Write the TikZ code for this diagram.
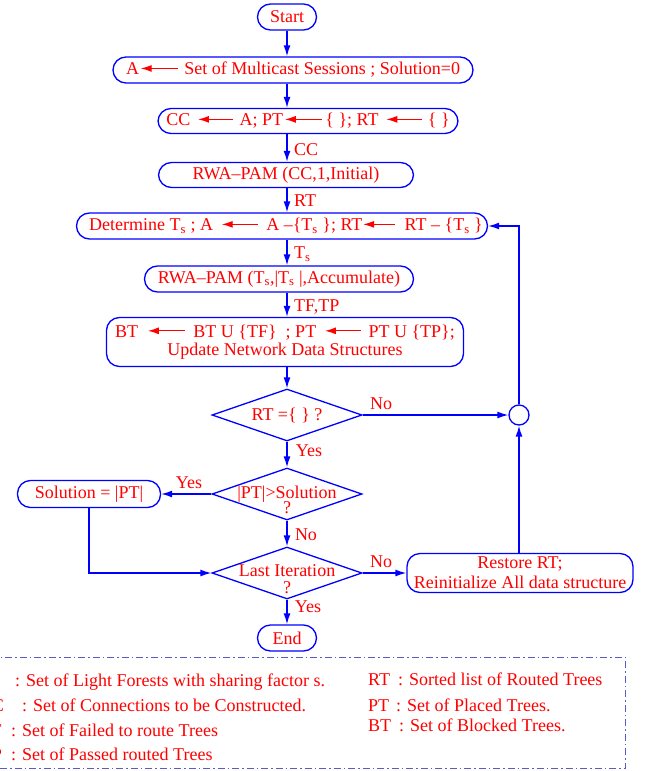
\documentclass[tikz,border=0pt]{standalone}
\usepackage{fontspec}
\setmainfont{Liberation Serif}
\usetikzlibrary{arrows.meta,shapes.geometric}
\definecolor{fb}{RGB}{0,0,255}
\definecolor{fr}{RGB}{255,0,0}
\definecolor{lg}{RGB}{90,90,200}
\newcommand\la[1]{\tikz[baseline=-6.5pt]\draw[fr,line width=1.3pt,{Latex[length=11pt,width=7pt]}-] (0pt,0pt)--(#1pt,0pt);}
\newcommand\hs[1]{\hspace*{#1pt}}
\begin{document}
\begin{tikzpicture}[x=1pt,y=-1pt,
  every node/.style={font=\fontsize{18}{20}\selectfont},
  pill/.style={draw=fb,line width=1.3pt,rounded corners=13pt,text=fr,inner sep=0pt,align=center},
  dia/.style={draw=fb,line width=1.3pt,diamond,inner sep=0pt},
  flow/.style={draw=fb,line width=1.5pt,-{Latex[length=11pt,width=7pt]}},
  lab/.style={text=fr,inner sep=0pt},
  leg/.style={text=fr,inner sep=0pt,anchor=base west},
  legl/.style={text=fr,inner sep=0pt,anchor=base east}]
\useasboundingbox (0,0) rectangle (650,771);
\clip (0,0) rectangle (650,771);

% boxes
\node[pill,minimum width=59,minimum height=26] (start) at (287,17) {Start};
\node[pill,minimum width=360,minimum height=26] (a) at (293,70)
  {A\hs{1}\la{37}\hs{6}Set of Multicast Sessions ; Solution=0};
\node[pill,minimum width=300,minimum height=25] (cc) at (308,121)
  {CC\hs{7}\la{35}\hs{6}A; PT\hs{1}\la{37}\hs{3}\{ \}; RT\hs{7}\la{36}\hs{5}\{ \}};
\node[pill,minimum width=255,minimum height=25] (rwa1) at (286,175)
  {RWA--PAM (CC,1,Initial)};
\node[pill,minimum width=411,minimum height=26] (det) at (282,226)
  {\hs{8}Determine T\textsubscript{s} ; A\hs{8}\la{36}\hs{8}A --\{T\textsubscript{s} \}; RT\la{32}\hs{9}RT -- \{T\textsubscript{s} \}};
\node[pill,minimum width=269,minimum height=26] (rwa2) at (279,279)
  {RWA--PAM (T\textsubscript{s},|T\textsubscript{s} |,Accumulate)};
\node[pill,minimum width=357,minimum height=49,font=\fontsize{18}{18}\selectfont] (bt) at (285,342)
  {BT\hs{9}\la{37}\hs{8}BT U \{TF\} \ ; PT\hs{8}\la{36}\hs{7}PT U \{TP\};\\Update Network Data Structures};
\node[dia,minimum width=150,minimum height=52] (d1) at (287,415) {};
\node[lab] (t1) at (287,415) {RT =\{ \} ?};
\node[draw=fb,line width=1.3pt,circle,minimum size=20,inner sep=0pt] (c) at (519,415) {};
\node[dia,minimum width=150,minimum height=52] (d2) at (287,494) {};
\node[lab] (t2) at (287,494) {|PT|>Solution};
\node[lab] (q2) at (287,508) {?};
\node[pill,minimum width=143,minimum height=27] (sol) at (89,494) {Solution = |PT|};
\node[dia,minimum width=150,minimum height=52] (d3) at (287,573) {};
\node[lab] (t3) at (287,571) {Last Iteration};
\node[lab] (q3) at (287,588) {?};
\node[pill,minimum width=226,minimum height=39,font=\fontsize{18}{20}\selectfont] (rest) at (520,573)
  {Restore RT;\\Reinitialize All data structure};
\node[pill,minimum width=59,minimum height=26] (end) at (287,638) {End};

% connectors
\draw[flow] (start) -- (a.north -| start);
\draw[flow] (a.south -| start) -- (cc.north -| start);
\draw[flow] (cc.south -| start) -- (rwa1.north -| start);
\draw[flow] (rwa1.south -| start) -- (det.north -| start);
\draw[flow] (det.south -| start) -- (rwa2.north -| start);
\draw[flow] (rwa2.south -| start) -- (bt.north -| start);
\draw[flow] (bt.south -| start) -- (d1.north);
\draw[flow] (d1.east) -- (c.west);
\coordinate (cu) at (c.north |- det.east);
\draw[flow] (c.north) -- (cu) -- (det.east);
\draw[flow] (d1.south) -- (d2.north);
\draw[flow] (d2.west) -- (sol.east);
\coordinate (sd) at (sol.south |- d3.west);
\draw[flow] (sol.south) -- (sd) -- (d3.west);
\draw[flow] (d2.south) -- (d3.north);
\draw[flow] (d3.east) -- (rest.west);
\draw[flow] (rest.north -| c) -- (c.south);
\draw[flow] (d3.south) -- (end.north);

% connector labels
\node[lab,anchor=west] at (294,150) {CC};
\node[lab,anchor=west] at (294,201) {RT};
\node[lab,anchor=west] at (294,254) {T\textsubscript{s}};
\node[lab,anchor=west] at (294,307) {TF,TP};
\node[lab] at (381,404) {No};
\node[lab] at (309,451) {Yes};
\node[lab] at (189,483) {Yes};
\node[lab] at (306,535) {No};
\node[lab] at (381,562) {No};
\node[lab] at (308,607) {Yes};

% legend
\draw[lg,line width=1pt,dash pattern=on 7pt off 3pt on 1.5pt off 3pt] (-5,657) rectangle (625,768);
\node[leg] at (15,686) {: Set of Light Forests with sharing factor s.};
\node[legl] at (4,711) {CC};
\node[leg] at (22,711) {: Set of Connections to be Constructed.};
\node[legl] at (2,736) {TF};
\node[leg] at (11,736) {: Set of Failed to route Trees};
\node[legl] at (2,760) {TP};
\node[leg] at (11,760) {: Set of Passed routed Trees};
\node[leg] at (368,685) {RT\hs{8}: Sorted list of Routed Trees};
\node[leg] at (368,711) {PT\hs{7}: Set of Placed Trees.};
\node[leg] at (368,731) {BT\hs{8}: Set of Blocked Trees.};
\end{tikzpicture}
\end{document}
